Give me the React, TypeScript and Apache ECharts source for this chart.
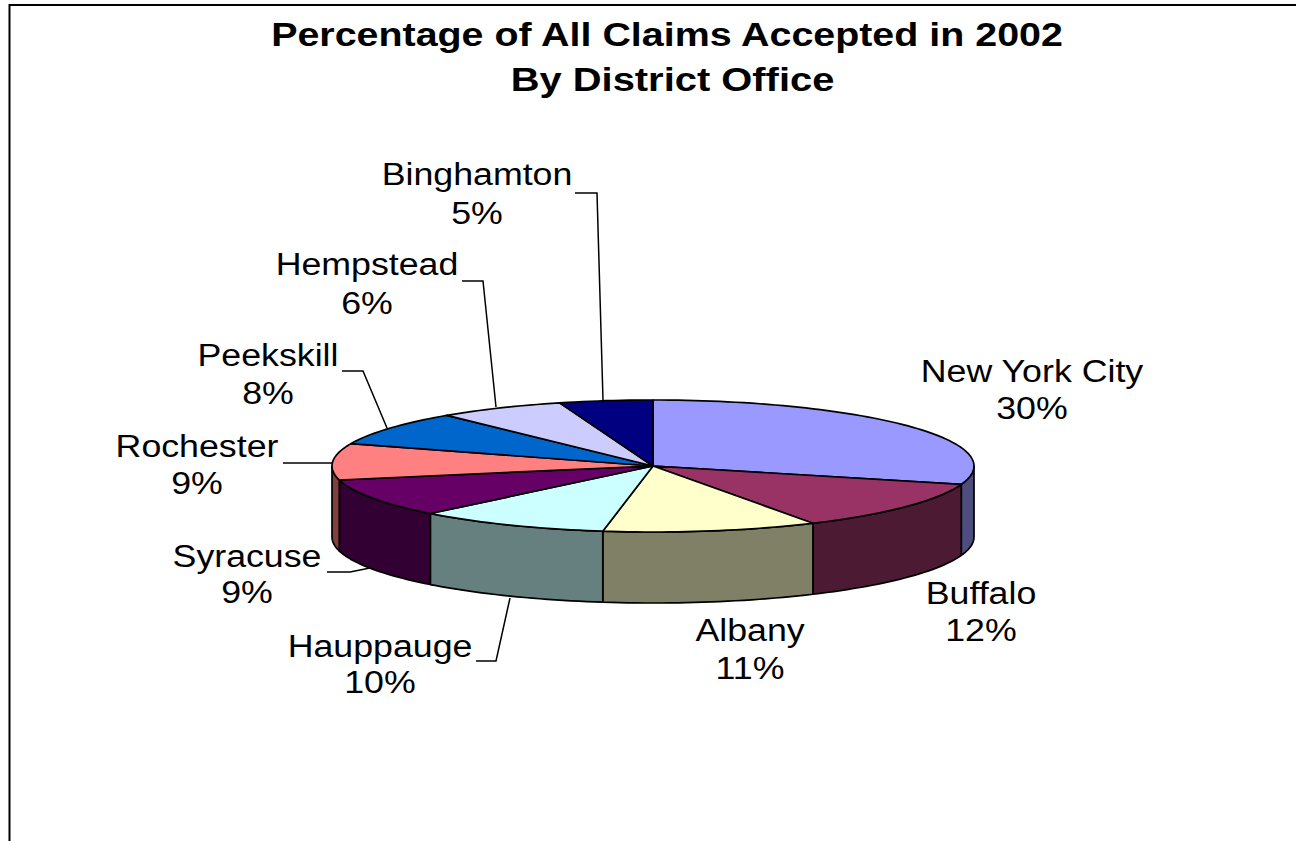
import React, { useEffect, useRef } from "react";
import * as echarts from "echarts";

const titleLines = ["Percentage of All Claims Accepted in 2002", "By District Office"];
const districts = ["New York City", "Buffalo", "Albany", "Hauppauge", "Syracuse", "Rochester", "Peekskill", "Hempstead", "Binghamton"];
const shares = [29.5, 12.2, 10.8, 9.7, 9.4, 8.9, 8.4, 6.4, 4.7];
const topColors = ["#9999FF", "#993366", "#FFFFCC", "#CCFFFF", "#660066", "#FF8080", "#0066CC", "#CCCCFF", "#000080"];
const wallColors = ["#4D4D80", "#4D1A33", "#808066", "#668080", "#330033", "#804040", "#003366", "#666680", "#000040"];

// Placement of the callouts, by district order: label centre x, name y, percent y, leader points
const labelLayout: { x: number; y1: number; y2: number; leader?: number[][] }[] = [
  { x: 1032, y1: 371, y2: 408 },
  { x: 981, y1: 593, y2: 630 },
  { x: 750, y1: 630, y2: 668 },
  { x: 380, y1: 646, y2: 682, leader: [[476, 661], [496, 661], [510, 598]] },
  { x: 247, y1: 556, y2: 592, leader: [[327, 572], [350, 572], [370, 568]] },
  { x: 197, y1: 446, y2: 483, leader: [[283, 463], [332, 463]] },
  { x: 268, y1: 355, y2: 393, leader: [[342, 371], [363, 371], [387, 428]] },
  { x: 367, y1: 264, y2: 303, leader: [[462, 281], [483, 281], [496, 407]] },
  { x: 477, y1: 174, y2: 213, leader: [[575, 193], [597, 193], [603, 400]] },
];

const FONT = '"Liberation Sans", Arial, sans-serif';
const CX = 653;
const CY = 466;
const RX = 321;
const RY = 66;
const DEPTH = 71;
const WIDEN = 1.153;

const total = shares.reduce((a, b) => a + b, 0);
const pt = (deg: number, dy = 0): number[] => {
  const r = (deg * Math.PI) / 180;
  return [CX + RX * Math.sin(r), CY - RY * Math.cos(r) + dy];
};
const arc = (a: number, b: number, dy = 0): number[][] => {
  const n = Math.max(2, Math.ceil(Math.abs(b - a) / 1.5));
  const out: number[][] = [];
  for (let i = 0; i <= n; i++) out.push(pt(a + ((b - a) * i) / n, dy));
  return out;
};

const renderSlice = (params: any, api: any) => {
  const i = params.dataIndex;
  const before = shares.slice(0, i).reduce((a, b) => a + b, 0);
  const start = (before / total) * 360;
  const end = start + (api.value(0) / total) * 360;
  const stroke = { stroke: "#000", lineWidth: 1.7, lineJoin: "round" };
  const children: any[] = [];
  const a = Math.max(start, 90);
  const b = Math.min(end, 270);
  if (b > a) {
    const upper = arc(a, b);
    const lower = arc(b, a, DEPTH);
    children.push({
      type: "polygon",
      shape: { points: upper.concat(lower) },
      style: { fill: wallColors[i], ...stroke },
    });
  }
  children.push({
    type: "polygon",
    shape: { points: [[CX, CY], ...arc(start, end)] },
    style: { fill: topColors[i], ...stroke },
  });
  const l = labelLayout[i];
  if (l.leader) {
    children.push({
      type: "polyline",
      shape: { points: l.leader },
      style: { fill: null, stroke: "#000", lineWidth: 1.5 },
    });
  }
  const textStyle = { fill: "#000", font: `31px ${FONT}`, align: "center", verticalAlign: "middle" };
  children.push({ type: "text", x: l.x, y: l.y1, scaleX: WIDEN, style: { ...textStyle, text: districts[i] } });
  children.push({ type: "text", x: l.x, y: l.y2, scaleX: WIDEN, style: { ...textStyle, text: `${Math.round(api.value(0))}%` } });
  return { type: "group", children };
};

export default function App() {
  const ref = useRef<HTMLDivElement>(null);
  useEffect(() => {
    const chart = echarts.init(ref.current!, null, { renderer: "svg" });
    const titleStyle = { fill: "#000", font: `bold 33px ${FONT}`, align: "center", verticalAlign: "middle" };
    chart.setOption({
      animation: false,
      backgroundColor: "#fff",
      graphic: [
        {
          type: "polyline",
          shape: { points: [[9.5, 841], [9.5, 5], [1296, 5]] },
          style: { fill: null, stroke: "#000", lineWidth: 2 },
        },
        { type: "text", x: 667, y: 35, scaleX: 1.194, style: { ...titleStyle, text: titleLines[0] } },
        { type: "text", x: 672.5, y: 80, scaleX: 1.209, style: { ...titleStyle, text: titleLines[1] } },
      ],
      series: [
        {
          type: "custom",
          coordinateSystem: "none",
          renderItem: renderSlice,
          data: shares.map((v, i) => ({ name: districts[i], value: [v] })),
          silent: true,
        },
      ],
    });
    return () => chart.dispose();
  }, []);
  return <div ref={ref} style={{ position: "fixed", left: 0, top: 0, width: 1296, height: 841 }} />;
}
